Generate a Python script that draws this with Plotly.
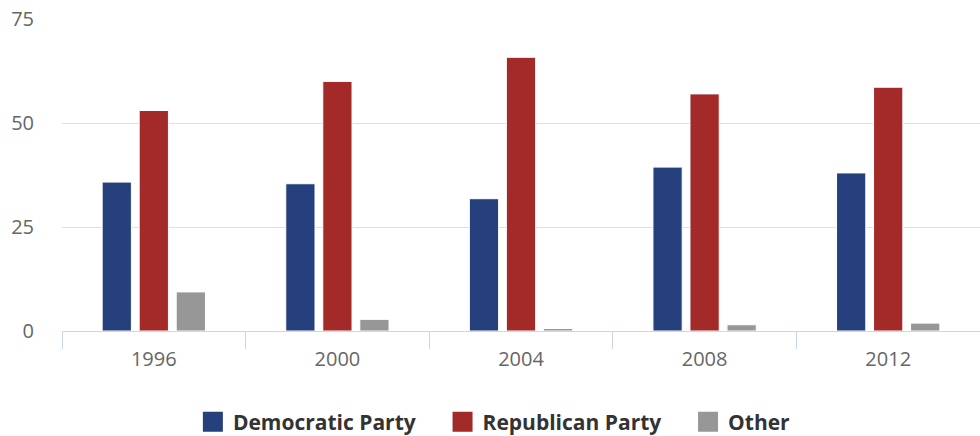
import plotly.graph_objects as go

years = ["1996", "2000", "2004", "2008", "2012"]
democratic = [35.8, 35.4, 31.8, 39.4, 38.0]
republican = [53.0, 60.0, 65.8, 57.0, 58.6]
other = [9.4, 2.8, 0.6, 1.5, 1.9]

series = [
    ("Democratic Party", democratic, "#263f7d"),
    ("Republican Party", republican, "#a32a29"),
    ("Other", other, "#979797"),
]

fig = go.Figure()
for name, vals, color in series:
    fig.add_trace(go.Bar(
        x=years, y=vals, name=name, legendgroup=name, showlegend=False,
        marker=dict(color=color, line=dict(color="white", width=1)),
    ))
# legend-only entries with larger square swatches
for i, (name, vals, color) in enumerate(series):
    pad = "\u00a0" * 4 if i < len(series) - 1 else ""
    fig.add_trace(go.Scatter(
        x=[None], y=[None], mode="markers", name=name + pad, legendgroup=name,
        marker=dict(symbol="square", size=16, color=color,
                    line=dict(color=color, width=4)),
        hoverinfo="skip",
    ))

fig.update_layout(
    width=980, height=436,
    margin=dict(l=62, r=0, t=19, b=105, autoexpand=False),
    paper_bgcolor="white", plot_bgcolor="white",
    barmode="group", bargap=0.395, bargroupgap=0.21,
    font=dict(family="Open Sans", color="#666666", size=20),
    showlegend=True,
    legend=dict(
        orientation="h", x=0.471, xref="paper", xanchor="center",
        y=-0.292, yanchor="middle",
        font=dict(family="Open Sans", size=21, color="#333333", weight="bold"),
        itemsizing="trace", traceorder="normal",
    ),
    xaxis=dict(
        type="category", showgrid=False,
        showline=True, linecolor="#ccd6eb", linewidth=1,
        ticks="outside", tickson="boundaries", ticklen=17, tickcolor="#ccd6eb",
        ticklabelstandoff=10,
        tickfont=dict(family="Open Sans", size=20, color="#666666"),
    ),
    yaxis=dict(
        range=[0, 75], tickvals=[0, 25, 50, 75],
        showgrid=True, gridcolor="#e0e0e0", gridwidth=1,
        zeroline=False, showline=False,
        ticks="", ticklabelstandoff=27,
        tickfont=dict(family="Open Sans", size=20, color="#666666"),
    ),
)

fig.write_html("out.html")
